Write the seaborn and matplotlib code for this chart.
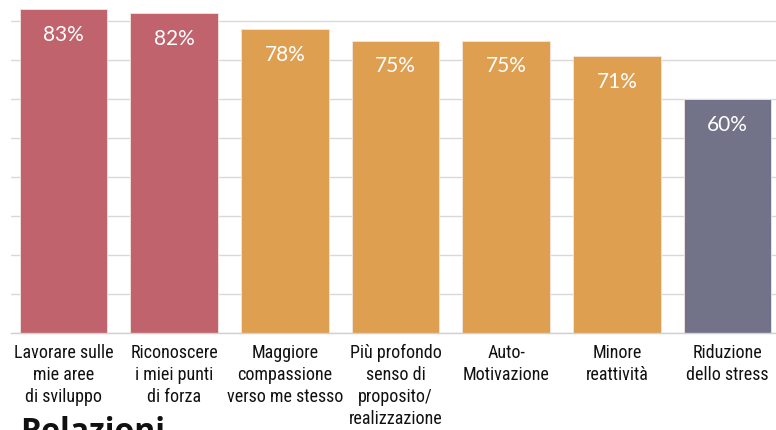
import matplotlib
matplotlib.use("Agg")
import matplotlib.pyplot as plt
import seaborn as sns
import pandas as pd

categories = [
    "Lavorare sulle\nmie aree\ndi sviluppo",
    "Riconoscere\ni miei punti\ndi forza",
    "Maggiore\ncompassione\nverso me stesso",
    "Più profondo\nsenso di\nproposito/\nrealizzazione",
    "Auto-\nMotivazione",
    "Minore\nreattività",
    "Riduzione\ndello stress",
]
values = [83, 82, 78, 75, 75, 71, 60]
bar_colors = ["#C0636D", "#C0636D", "#DE9F50", "#DE9F50", "#DE9F50", "#DE9F50", "#727389"]
value_labels = ["83%", "82%", "78%", "75%", "75%", "71%", "60%"]
grid_ticks = [0, 10, 20, 30, 40, 50, 60, 70, 80]

sns.set_theme(style="white")
plt.rcParams["font.family"] = ["Lato", "DejaVu Sans"]

df = pd.DataFrame({"cat": categories, "val": values})

fig = plt.figure(figsize=(7.76, 4.30), dpi=100)
ax = fig.add_axes([11 / 776, 1 - 333 / 430, 1 - 11 / 776, 333 / 430])

sns.barplot(data=df, x="cat", y="val", hue="cat", palette=bar_colors,
            legend=False, width=0.79, ax=ax, saturation=1,
            edgecolor="#F3E6E0", linewidth=0.6)

ax.set_ylim(0, 85.4)
ax.set_xlim(-0.474, 6.438)
ax.set_yticks(grid_ticks)
ax.set_yticklabels([])
ax.tick_params(axis="y", length=0)
ax.yaxis.grid(True, color="#D9D9D9", linewidth=1.0)
ax.set_axisbelow(True)
for s in ["top", "right", "left"]:
    ax.spines[s].set_visible(False)
ax.spines["bottom"].set_color("#D0D0D0")
ax.spines["bottom"].set_linewidth(1.0)
ax.set_xlabel("")
ax.set_ylabel("")

ax.tick_params(axis="x", length=0, pad=8)
for lbl in ax.get_xticklabels():
    lbl.set_fontfamily(["Liberation Sans Narrow", "DejaVu Sans Condensed",
                        "Roboto Condensed", "DejaVu Sans"])
    lbl.set_fontstretch("condensed")
    lbl.set_fontsize(13)
    lbl.set_color("#111111")
    lbl.set_linespacing(1.27)
    lbl.set_verticalalignment("top")

for i, (v, t) in enumerate(zip(values, value_labels)):
    ax.annotate(t, xy=(i, v), xytext=(0, -18.5), textcoords="offset points",
                ha="center", va="center", color="white", fontsize=15,
                fontfamily=["Lato", "DejaVu Sans"])

fig.text(20 / 776, 1 - 416 / 430, "Relazioni", fontsize=23, fontweight="bold",
         color="#111111", va="top", ha="left", fontfamily=["Open Sans", "DejaVu Sans"])

fig.savefig("out.png", dpi=100)
